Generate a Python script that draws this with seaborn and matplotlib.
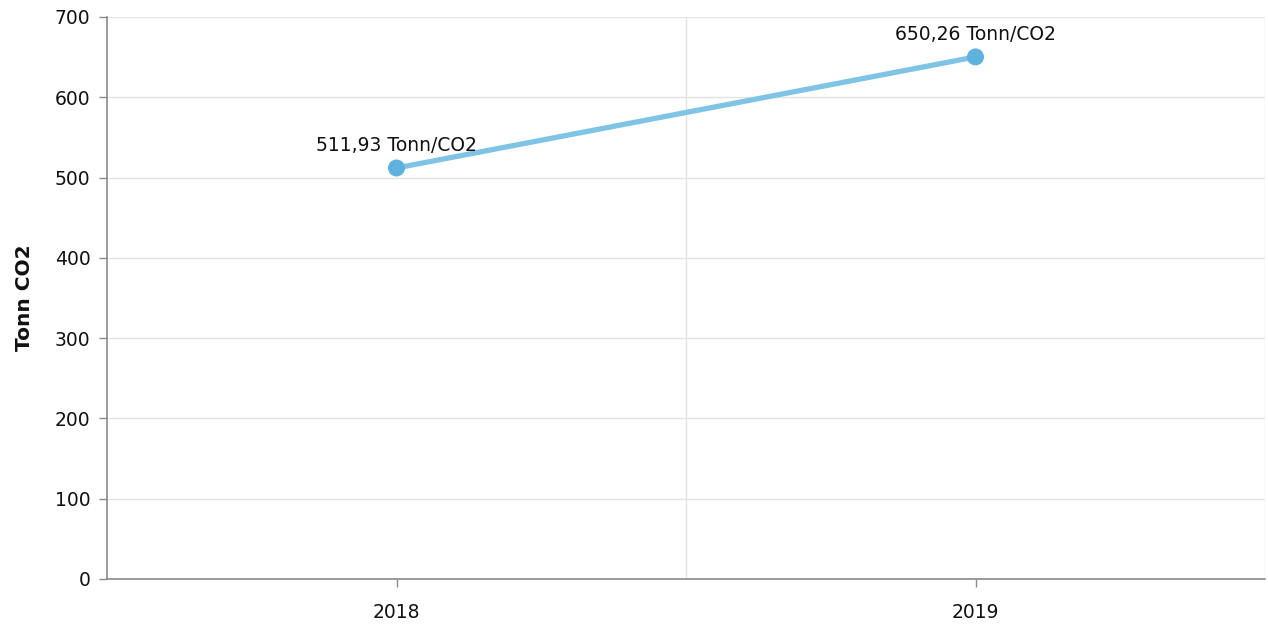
import matplotlib
matplotlib.use("Agg")
import matplotlib.pyplot as plt
import seaborn as sns
import pandas as pd

years = ["2018", "2019"]
values = [511.93, 650.26]
labels = ["511,93 Tonn/CO2", "650,26 Tonn/CO2"]
y_ticks = [0, 100, 200, 300, 400, 500, 600, 700]

df = pd.DataFrame({"year": years, "value": values})

sns.set_style("white")
plt.rcParams["font.family"] = ["DejaVu Sans"]

fig = plt.figure(figsize=(12.68, 6.27), dpi=100)
ax = fig.add_axes([107 / 1268, 1 - 579 / 627, (1265 - 107) / 1268, (579 - 17) / 627])

sns.lineplot(data=df, x="year", y="value", color="#7fc4e4", linewidth=3.8, ax=ax, zorder=3)
sns.scatterplot(data=df, x="year", y="value", color="#5eb2dd", s=150, edgecolor="none", ax=ax, zorder=4)

for i, (v, lab) in enumerate(zip(values, labels)):
    ax.annotate(lab, (i, v), xytext=(0, 9), textcoords="offset points",
                ha="center", va="bottom", fontsize=13.5, color="#111111")

ax.set_xlim(-0.5, 1.5)
ax.set_ylim(0, 700)
ax.set_yticks(y_ticks)
ax.set_xticks([0, 1])
ax.set_xticklabels(years)

# grid: horizontal at each tick, vertical at category boundaries
for t in y_ticks[1:]:
    ax.axhline(t, color="#e3e3e3", linewidth=1, zorder=0)
for xb in [0.5, 1.5]:
    ax.axvline(xb, color="#e3e3e3", linewidth=1, zorder=0)

for s in ["top", "right"]:
    ax.spines[s].set_visible(False)
for s in ["left", "bottom"]:
    ax.spines[s].set_color("#8a8a8a")
    ax.spines[s].set_linewidth(1.2)

ax.tick_params(axis="both", which="both", length=6, width=1, color="#8a8a8a",
               labelsize=13.5, labelcolor="#111111", direction="out",
               bottom=True, left=True)
ax.tick_params(axis="x", pad=11)
ax.tick_params(axis="y", pad=6)

ax.set_xlabel("")
ax.set_ylabel("Tonn CO2", fontsize=14.5, fontweight="bold", labelpad=15, color="#111111")

fig.savefig("out.png", dpi=100)
